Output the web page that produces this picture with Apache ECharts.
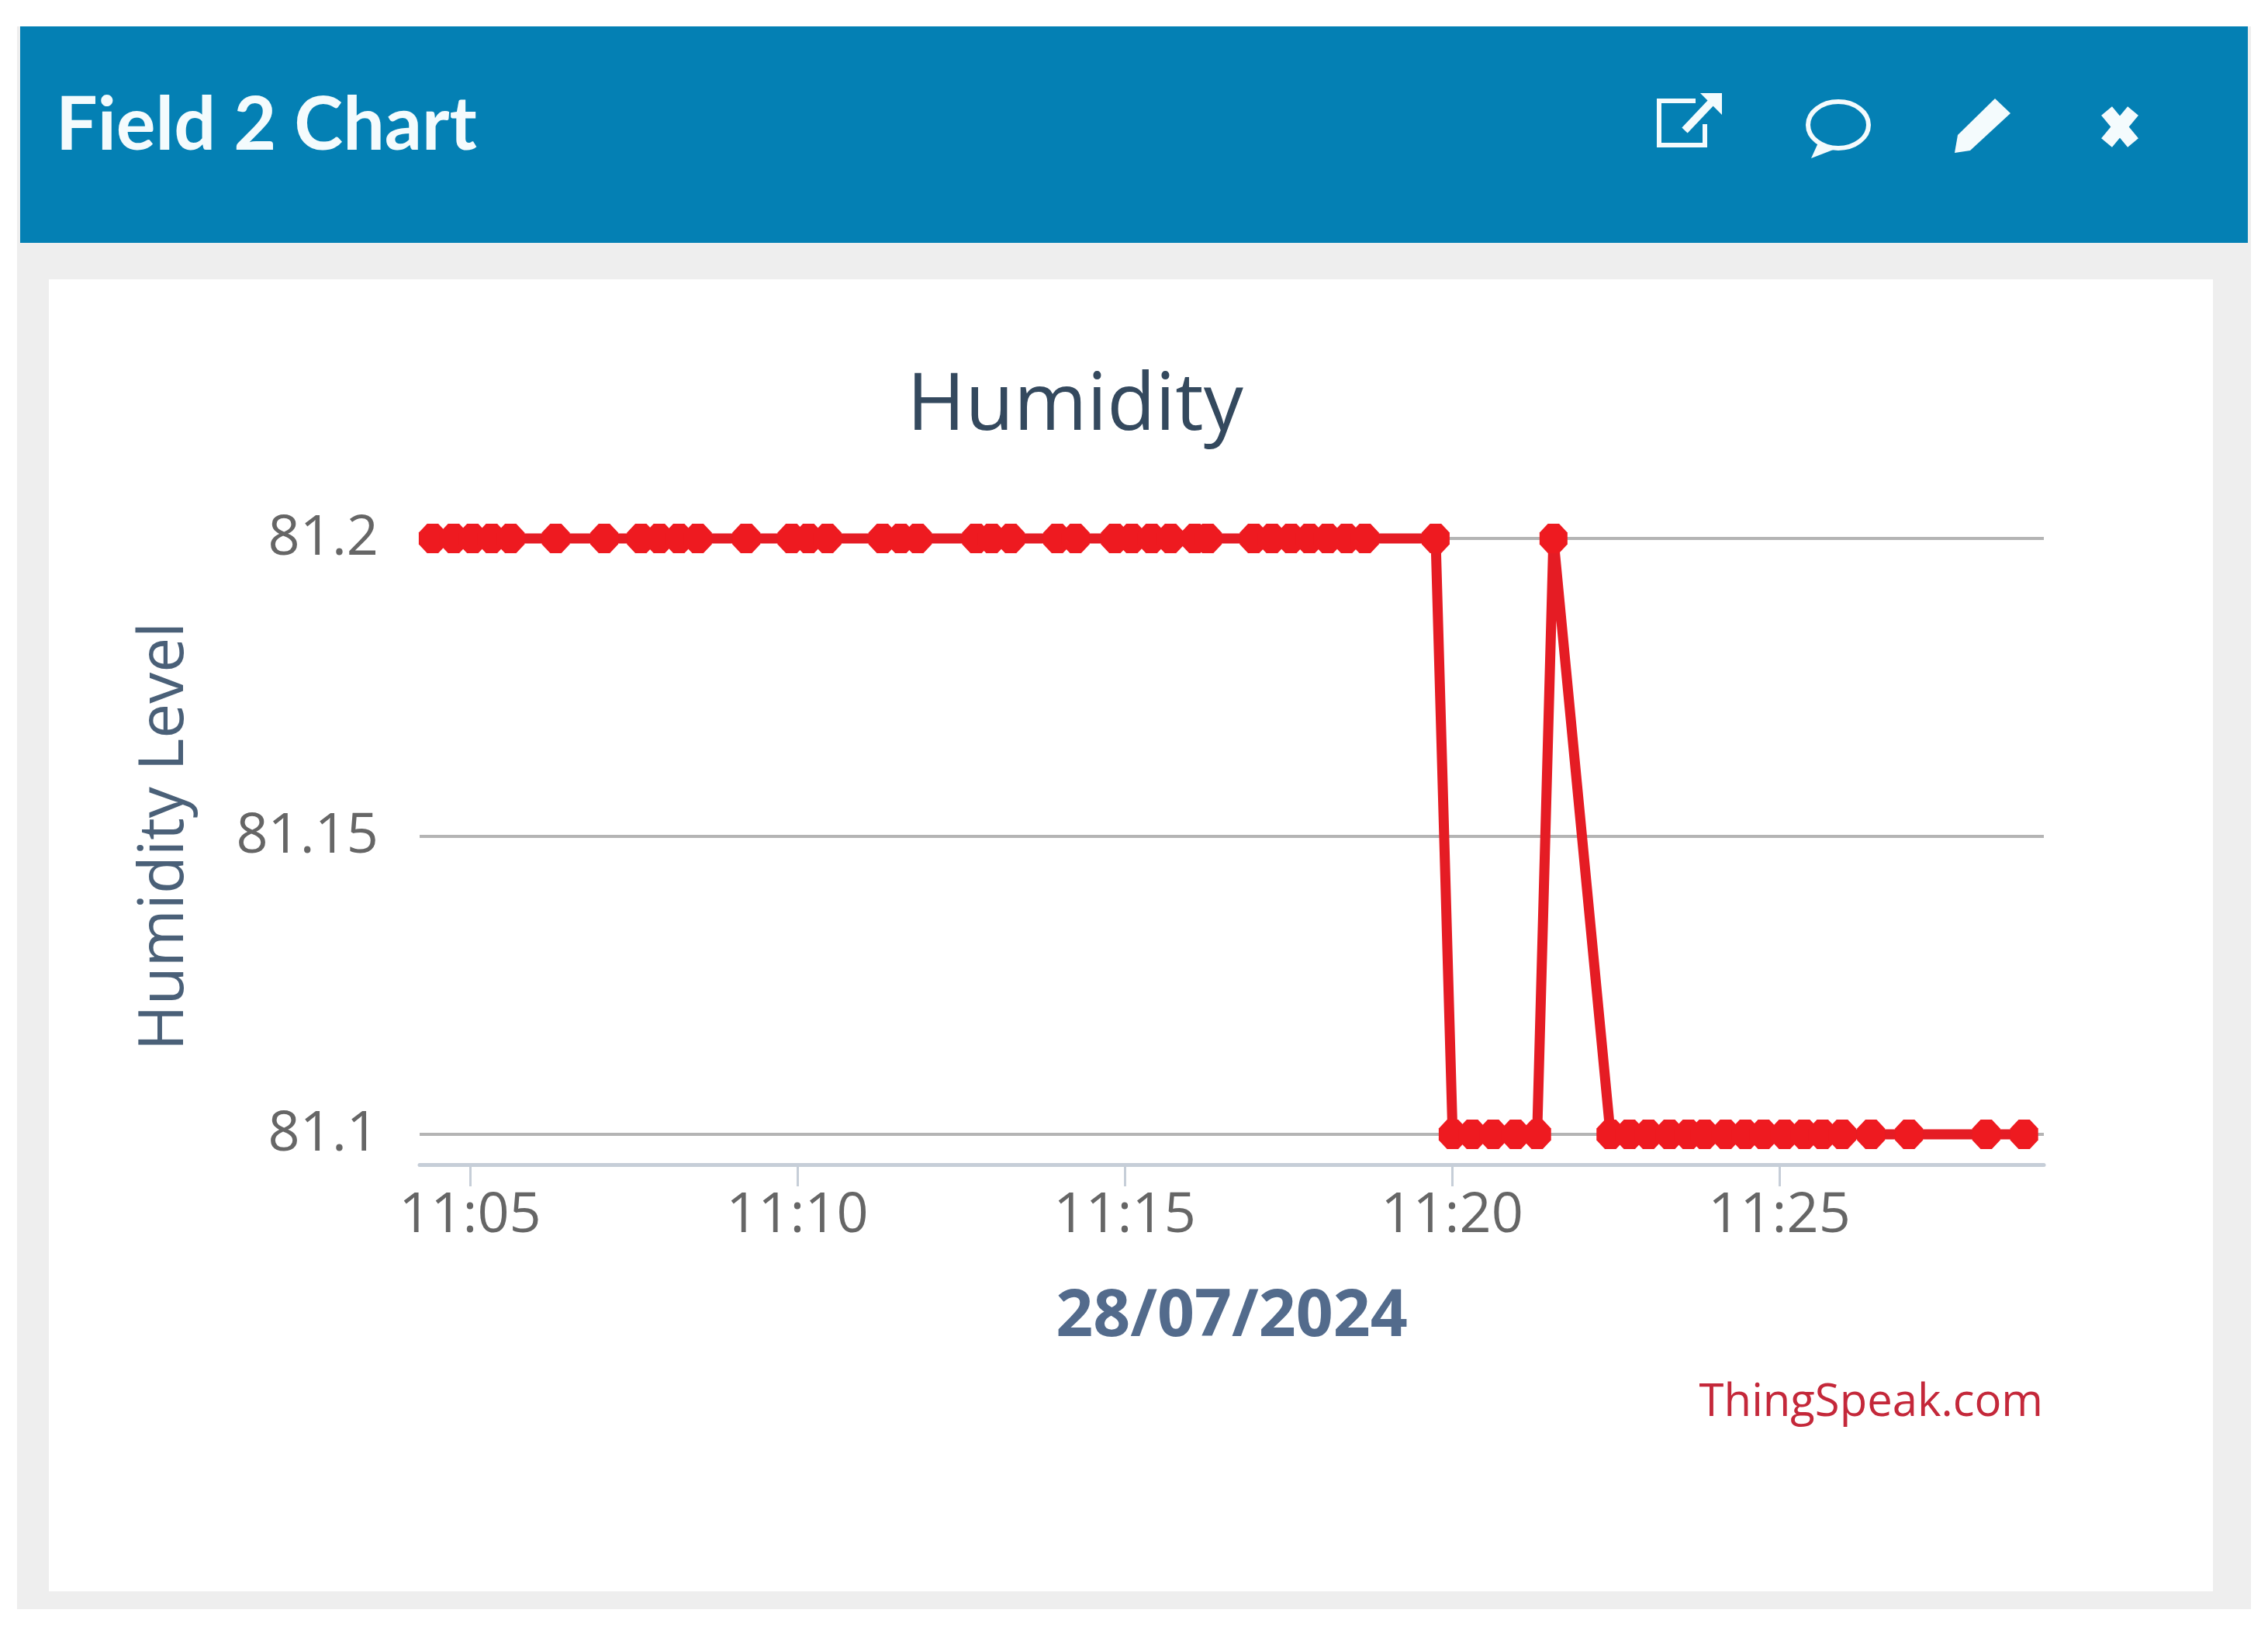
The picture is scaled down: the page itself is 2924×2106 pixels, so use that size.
<!DOCTYPE html>
<html>
<head>
<meta charset="utf-8">
<style>html,body{margin:0;padding:0;background:#fff}#c{width:2924px;height:2106px}</style>
<script src="https://cdn.jsdelivr.net/npm/echarts@6/dist/echarts.min.js"></script>
</head>
<body>
<div id="c"></div>
<script>
// minutes past 11:00 on 28/07/2024
const minutes = [4.43,4.75,5.04,5.33,5.62,6.31,7.05,7.61,7.89,8.19,8.48,9.22,9.91,10.17,10.46,11.30,11.58,11.84,12.73,12.97,13.26,13.97,14.25,14.85,15.11,15.41,15.70,16.07,16.27,16.97,17.25,17.54,17.82,18.10,18.39,18.67,19.75,20.01,20.31,20.63,20.97,21.30,21.55,22.42,22.71,23.00,23.32,23.61,23.86,24.18,24.48,24.76,25.08,25.38,25.66,25.96,26.40,26.98,28.16,28.74];
const humidity = [81.2,81.2,81.2,81.2,81.2,81.2,81.2,81.2,81.2,81.2,81.2,81.2,81.2,81.2,81.2,81.2,81.2,81.2,81.2,81.2,81.2,81.2,81.2,81.2,81.2,81.2,81.2,81.2,81.2,81.2,81.2,81.2,81.2,81.2,81.2,81.2,81.2,81.1,81.1,81.1,81.1,81.1,81.2,81.1,81.1,81.1,81.1,81.1,81.1,81.1,81.1,81.1,81.1,81.1,81.1,81.1,81.1,81.1,81.1,81.1];
const xTicks = [5,10,15,20,25];
const xMin = 4.23, xMax = 29.04;
const chartTitle = 'Humidity', panelTitle = 'Field 2 Chart', xName = '28/07/2024', yName = 'Humidity Level', credit = 'ThingSpeak.com';

const font = '"Open Sans", "Noto Sans", sans-serif';
const white = '#f4fbfd';
const chart = echarts.init(document.getElementById('c'), null, {renderer:'canvas'});
chart.setOption({
  backgroundColor:'#fff',
  animation:false,
  title:[
    {text:chartTitle,left:1386,top:525,textAlign:'center',textVerticalAlign:'middle',padding:0,
     textStyle:{fontFamily:font,fontSize:102,fontWeight:400,color:'#34495e'}},
    {text:panelTitle,left:72,top:162,textVerticalAlign:'middle',padding:0,
     textStyle:{fontFamily:'Lato, "Noto Sans", sans-serif',fontSize:95,fontWeight:700,color:'#f4fbfd'}},
    {text:credit,left:2634,top:1808,textAlign:'right',textVerticalAlign:'middle',padding:0,
     textStyle:{fontFamily:font,fontSize:58,fontWeight:400,color:'#c4283a'}}
  ],
  grid:{left:541,right:289,top:694,bottom:644,containLabel:false},
  xAxis:{
    type:'value',min:xMin,max:xMax,offset:39,
    name:xName,nameLocation:'middle',nameGap:155,
    nameTextStyle:{fontFamily:font,fontSize:84,fontWeight:700,color:'#536b8c'},
    axisLine:{show:true,lineStyle:{color:'#c6ced8',width:5}},
    axisTick:{show:true,customValues:xTicks,length:28,lineStyle:{color:'#c6ced8',width:3}},
    axisLabel:{customValues:xTicks,margin:30,fontFamily:font,fontSize:72,color:'#666666',
      formatter:v=>'11:'+String(v).padStart(2,'0')},
    splitLine:{show:false}
  },
  yAxis:{
    type:'value',min:81.1,max:81.2,interval:0.05,
    name:yName,nameLocation:'middle',nameGap:288,nameRotate:90,
    nameTextStyle:{fontFamily:font,fontSize:80,fontWeight:400,color:'#4a6078'},
    axisLine:{show:false},axisTick:{show:false},
    axisLabel:{margin:53,fontFamily:font,fontSize:72,color:'#666666',padding:[0,0,14,0]},
    splitLine:{show:true,lineStyle:{color:'#b4b4b4',width:4}}
  },
  series:[{
    type:'line',clip:false,silent:true,
    data:minutes.map((m,i)=>[m,humidity[i]]),
    symbol:'path://M30 0L70 0L100 30L100 70L70 100L30 100L0 70L0 30Z',symbolKeepAspect:false,
    symbolSize:[36,38],showSymbol:true,showAllSymbol:true,
    itemStyle:{color:'#ee1a20'},
    lineStyle:{color:'#e51c24',width:13},
    z:5
  }],
  graphic:[
    {type:'rect',z:-10,silent:true,shape:{x:22,y:34,width:2880,height:2040},style:{fill:'#eeeeee'}},
    {type:'rect',z:-9,silent:true,shape:{x:63,y:360,width:2790,height:1691},style:{fill:'#ffffff'}},
    {type:'rect',z:-9,silent:true,shape:{x:26,y:34,width:2872,height:279},style:{fill:'#0480b4'}},
    // external-link icon
    {type:'polyline',z:10,silent:true,shape:{points:[[2186,130],[2139,130],[2139,187],[2198,187],[2198,160]]},style:{stroke:white,lineWidth:6,fill:'none'}},
    {type:'line',z:10,silent:true,shape:{x1:2172,y1:168,x2:2208,y2:130},style:{stroke:white,lineWidth:10}},
    {type:'polygon',z:10,silent:true,shape:{points:[[2192,120],[2220,120],[2220,148]]},style:{fill:white}},
    // comment icon
    {type:'ellipse',z:10,silent:true,shape:{cx:2370,cy:161,rx:39,ry:30},style:{stroke:white,lineWidth:6,fill:'none'}},
    {type:'polygon',z:10,silent:true,shape:{points:[[2345,182],[2335,204],[2366,192]]},style:{fill:white}},
    // pencil icon
    {type:'polygon',z:10,silent:true,shape:{points:[[2572,127],[2592,146],[2540,194],[2520,197],[2524,174]]},style:{fill:white}},
    // close icon
    {type:'line',z:10,silent:true,shape:{x1:2716,y1:143,x2:2750,y2:184},style:{stroke:white,lineWidth:18}},
    {type:'line',z:10,silent:true,shape:{x1:2750,y1:143,x2:2716,y2:184},style:{stroke:white,lineWidth:18}}
  ]
});
</script>
</body>
</html>
